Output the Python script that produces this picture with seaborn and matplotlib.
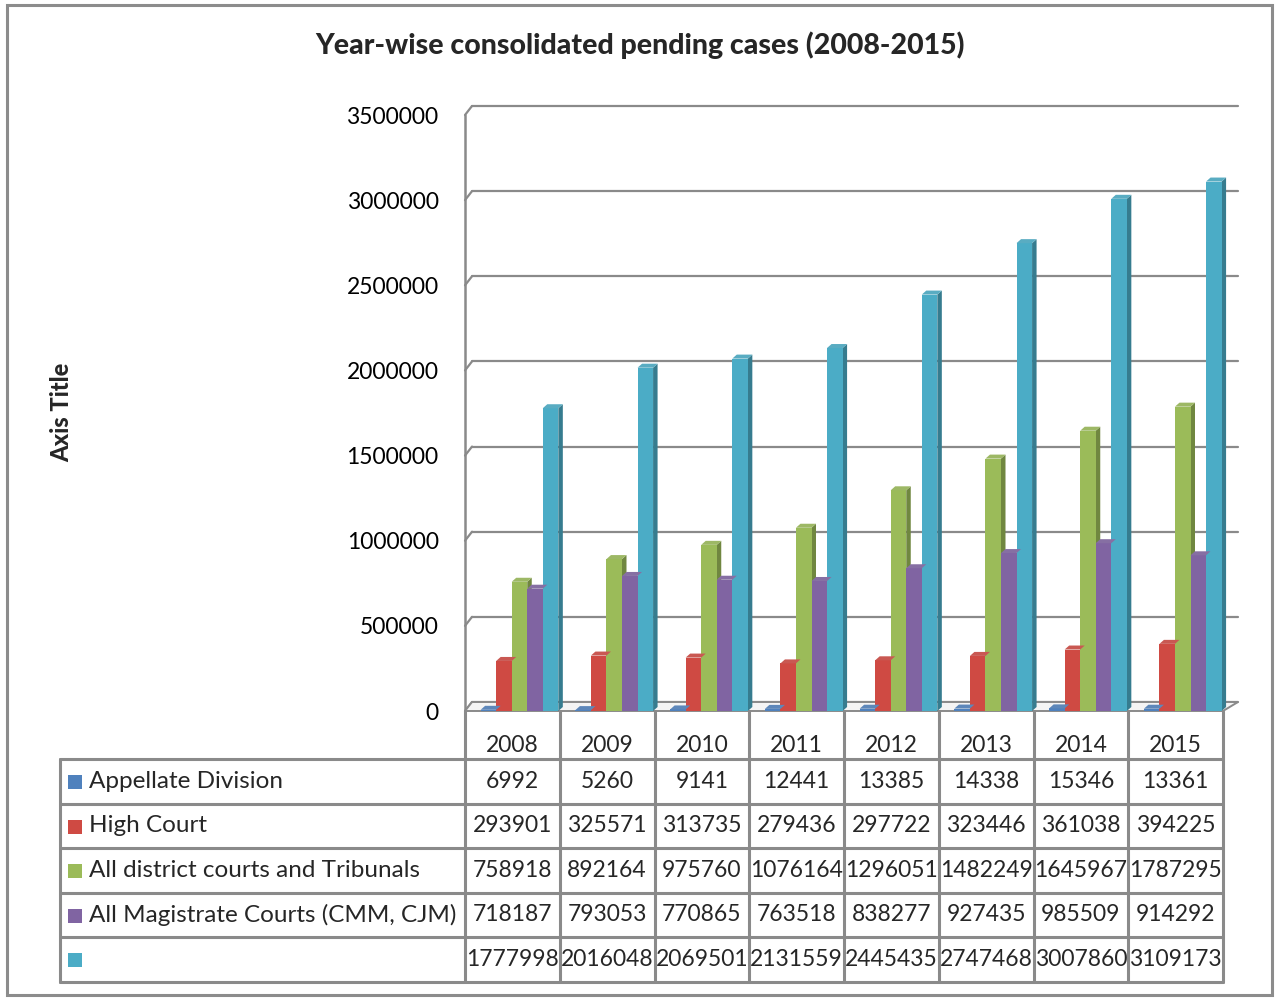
import numpy as np
import pandas as pd
import seaborn as sns
import matplotlib.pyplot as plt
from matplotlib.patches import Polygon, Rectangle
from matplotlib.lines import Line2D
import matplotlib.colors as mcolors

# ---------------- data ----------------
years = ["2008", "2009", "2010", "2011", "2012", "2013", "2014", "2015"]
appellate = [6992, 5260, 9141, 12441, 13385, 14338, 15346, 13361]
high_court = [293901, 325571, 313735, 279436, 297722, 323446, 361038, 394225]
district = [758918, 892164, 975760, 1076164, 1296051, 1482249, 1645967, 1787295]
magistrate = [718187, 793053, 770865, 763518, 838277, 927435, 985509, 914292]
total = [1777998, 2016048, 2069501, 2131559, 2445435, 2747468, 3007860, 3109173]
series_names = ["Appellate Division", "High Court", "All district courts and Tribunals",
                "All Magistrate Courts (CMM, CJM)", ""]
series_values = [appellate, high_court, district, magistrate, total]
yticks = [0, 500000, 1000000, 1500000, 2000000, 2500000, 3000000, 3500000]
title = "Year-wise consolidated pending cases (2008-2015)"
axis_title = "Axis Title"

colors = ["#4F81BD", "#CF4A43", "#9BBB59", "#8064A2", "#4BACC6"]
keys = [f"s{i}" for i in range(len(series_names))]

rows = []
for k, vals in zip(keys, series_values):
    for y, v in zip(years, vals):
        rows.append({"year": y, "series": k, "value": v})
df = pd.DataFrame(rows)

# ---------------- figure ----------------
sns.set_theme(style="white")
plt.rcParams["font.family"] = ["Lato", "DejaVu Sans"]

W, H = 1278, 998
fig = plt.figure(figsize=(W / 100, H / 100), dpi=100)
fig.patch.set_facecolor("white")


def fx(px):
    return px / W


def fy(py):
    return 1 - py / H


grid_c = "#8a8a8a"

# outer frame
fig.add_artist(Rectangle((fx(7), fy(995)), fx(1272) - fx(7), (995 - 5) / H,
                         transform=fig.transFigure, fill=False, edgecolor="#8c8c8c", lw=2.2))

ax_left, ax_right, ax_bot, ax_top = 465, 1223, 711, 115
ax = fig.add_axes([fx(ax_left), fy(ax_bot), (ax_right - ax_left) / W, (ax_bot - ax_top) / H])
ax.set_facecolor("none")

pal = dict(zip(keys, colors))
sns.barplot(data=df, x="year", y="value", hue="series", hue_order=keys, order=years,
            palette=pal, width=0.82, ax=ax, legend=False, saturation=1, linewidth=0,
            errorbar=None)

shift = 0.075
x0, x1 = -0.5 - shift, 7.5 - shift
ax.set_xlim(x0, x1)
ax.set_ylim(0, 3500000)

px_x = (ax_right - ax_left) / 8.0          # pixels per category
px_y = (ax_bot - ax_top) / 3500000.0       # pixels per unit


def dxp(p):
    return p / px_x


def dyp(p):
    return p / px_y


# back wall gridlines + floor
wall_dx, wall_dy = 7, 9
for v in yticks:
    ax.add_line(Line2D([x0, x0 + dxp(wall_dx)], [v, v + dyp(wall_dy)], color=grid_c, lw=1.6,
                       clip_on=False, zorder=0.5))
    ax.add_line(Line2D([x0 + dxp(wall_dx), x1 + dxp(15)], [v + dyp(wall_dy)] * 2,
                       color=grid_c, lw=1.6, clip_on=False, zorder=0.5))
floor = Polygon([(x0, 0), (x1, 0), (x1 + dxp(15), dyp(wall_dy)), (x0 + dxp(wall_dx), dyp(wall_dy))],
                closed=True, facecolor="#f4f4f4", edgecolor=grid_c, lw=1.4, clip_on=False, zorder=0.6)
ax.add_patch(floor)
ax.add_line(Line2D([x0, x0], [0, 3500000], color=grid_c, lw=1.8, clip_on=False, zorder=0.7))

# 3D depth on bars
bdx, bdy = 4.5, 4
for p in list(ax.patches):
    if p is floor:
        continue
    x, w, h = p.get_x(), p.get_width(), p.get_height()
    fc = np.array(mcolors.to_rgb(p.get_facecolor()))
    p.set_zorder(2)
    side = Polygon([(x + w, 0), (x + w + dxp(bdx), dyp(bdy)), (x + w + dxp(bdx), h + dyp(bdy)), (x + w, h)],
                   closed=True, facecolor=fc * 0.72, edgecolor="none", clip_on=False, zorder=1.9)
    top = Polygon([(x, h), (x + dxp(bdx), h + dyp(bdy)), (x + w + dxp(bdx), h + dyp(bdy)), (x + w, h)],
                  closed=True, facecolor=fc * 0.85 + 0.1, edgecolor="none", clip_on=False, zorder=2.1)
    ax.add_patch(side)
    ax.add_patch(top)

for s in ax.spines.values():
    s.set_visible(False)
ax.set_xticks([])
ax.set_xlabel("")
ax.set_ylabel("")
ax.set_yticks(yticks)
ax.set_yticklabels([str(v) for v in yticks], fontsize=16.5, color="black")
ax.tick_params(axis="y", length=0, pad=19)

# titles
fig.text(fx(640), fy(45), title, ha="center", va="center", fontsize=20.5, fontweight=900)
fig.text(fx(62), fy(412), axis_title, ha="center", va="center", rotation=90, fontsize=17,
         fontweight=900)

# ---------------- data table ----------------
col_w = (ax_right - ax_left) / 8.0
row_edges = [759, 803.5, 848, 892.5, 937, 981.5]
tbl_left = 60
lw_t = 2.2
tc = "#8a8a8a"
for k in range(9):
    xx = ax_left + col_w * k
    fig.add_artist(Line2D([fx(xx)] * 2, [fy(711), fy(row_edges[-1])], transform=fig.transFigure,
                          color=tc, lw=lw_t))
fig.add_artist(Line2D([fx(tbl_left)] * 2, [fy(row_edges[0]), fy(row_edges[-1])],
                      transform=fig.transFigure, color=tc, lw=lw_t))
for ye in row_edges:
    fig.add_artist(Line2D([fx(tbl_left), fx(ax_right)], [fy(ye)] * 2, transform=fig.transFigure,
                          color=tc, lw=lw_t))

for k, yr in enumerate(years):
    fig.text(fx(ax_left + col_w * (k + 0.5)), fy(745), yr, ha="center", va="center", fontsize=16.5)

for r, (name, vals, c) in enumerate(zip(series_names, series_values, colors)):
    yc = (row_edges[r] + row_edges[r + 1]) / 2
    fig.add_artist(Rectangle((fx(68), fy(yc + 8)), 14 / W, 14 / H, transform=fig.transFigure,
                             facecolor=c, edgecolor="none"))
    fig.text(fx(89), fy(yc), name, ha="left", va="center", fontsize=17.5)
    for k, v in enumerate(vals):
        fig.text(fx(ax_left + col_w * (k + 0.5)), fy(yc), str(v), ha="center", va="center",
                 fontsize=16.5)

fig.savefig("out.png", dpi=100, facecolor="white")
